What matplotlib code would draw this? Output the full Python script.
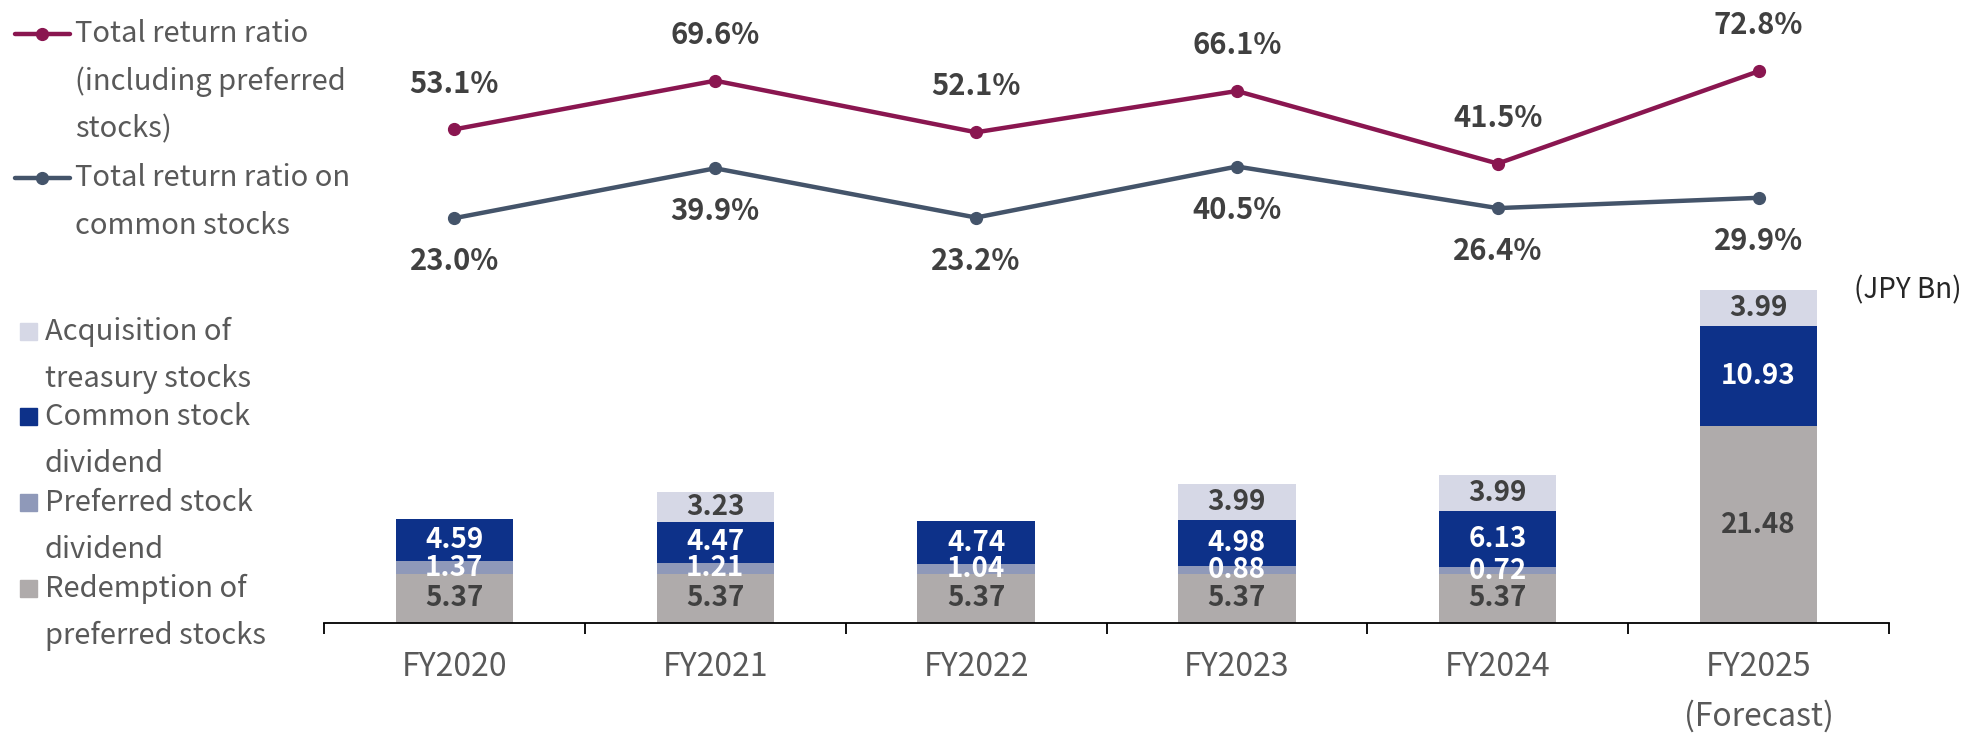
import numpy as np
import matplotlib.pyplot as plt
from matplotlib.lines import Line2D
from matplotlib.patches import Rectangle

plt.rcParams['font.family'] = ['Noto Sans CJK JP', 'DejaVu Sans']

# data
years = ['FY2020', 'FY2021', 'FY2022', 'FY2023', 'FY2024', 'FY2025\n(Forecast)']
redemption = [5.37, 5.37, 5.37, 5.37, 5.37, 21.48]
preferred_div = [1.37, 1.21, 1.04, 0.88, 0.72, 0.0]
common_div = [4.59, 4.47, 4.74, 4.98, 6.13, 10.93]
treasury = [0.0, 3.23, 0.0, 3.99, 3.99, 3.99]
ratio_incl_pref = [53.1, 69.6, 52.1, 66.1, 41.5, 72.8]
ratio_common = [23.0, 39.9, 23.2, 40.5, 26.4, 29.9]

c_red = '#AFABAB'
c_pref = '#8F99B9'
c_common = '#0D3189'
c_treas = '#D6D8E6'
c_line1 = '#8A1650'
c_line2 = '#44546A'
dark = '#404040'
grey_txt = '#595959'

W, H = 1964, 734


def fx(x):
    return x / W


def fy(y):
    return 1 - y / H


fig = plt.figure(figsize=(W / 100, H / 100), dpi=100)

# bar chart
ax = fig.add_axes([fx(324), fy(623), fx(1889) - fx(324), 366 / H])
x = np.arange(len(years))
bw = 0.45
segments = [(redemption, c_red, dark),
            (preferred_div, c_pref, 'white'),
            (common_div, c_common, 'white'),
            (treasury, c_treas, dark)]
bottom = np.zeros(len(years))
for vals, col, tcol in segments:
    vals = np.array(vals)
    ax.bar(x, vals, bw, bottom=bottom, color=col, edgecolor='none')
    for i, v in enumerate(vals):
        if v > 0:
            ax.text(x[i], bottom[i] + v / 2, '%.2f' % v, ha='center', va='center',
                    fontsize=20, fontweight='bold', color=tcol)
    bottom += vals

ax.set_xlim(-0.5, 5.5)
ax.set_ylim(0, 40)
for s in ['top', 'right', 'left']:
    ax.spines[s].set_visible(False)
ax.spines['bottom'].set_linewidth(1.3)
ax.set_yticks([])
ax.set_xticks(x)
ax.set_xticklabels(years, fontsize=23, color=grey_txt, linespacing=1.65)
ax.tick_params(axis='x', which='major', length=0, pad=20)
ax.set_xticks(np.arange(-0.5, 6, 1), minor=True)
ax.tick_params(axis='x', which='minor', length=8, width=1.3, direction='out')
ax.patch.set_alpha(0)

# line chart
ax2 = fig.add_axes([fx(324), fy(286), fx(1889) - fx(324), 236 / H])
ax2.plot(x, ratio_incl_pref, color=c_line1, lw=3.2, marker='o', ms=8.5)
ax2.plot(x, ratio_common, color=c_line2, lw=3.2, marker='o', ms=8.5)
for i in range(len(x)):
    ax2.annotate('%.1f%%' % ratio_incl_pref[i], (x[i], ratio_incl_pref[i]), xytext=(0, 33),
                 textcoords='offset points', ha='center', va='center',
                 fontsize=21, fontweight='bold', color=dark)
    ax2.annotate('%.1f%%' % ratio_common[i], (x[i], ratio_common[i]), xytext=(0, -31),
                 textcoords='offset points', ha='center', va='center',
                 fontsize=21, fontweight='bold', color=dark)
ax2.set_xlim(-0.5, 5.5)
ax2.set_ylim(0, 80)
ax2.axis('off')

# unit label
fig.text(fx(1962), fy(290), '(JPY Bn)', ha='right', va='center', fontsize=20, color='#262626')

# legend for lines
line_leg = [(c_line1, ['Total return ratio', '(including preferred', 'stocks)'], 34),
            (c_line2, ['Total return ratio on', 'common stocks'], 178)]
for col, lines, y0 in line_leg:
    fig.add_artist(Line2D([fx(15), fx(70)], [fy(y0), fy(y0)], color=col, lw=3.2,
                          solid_capstyle='round'))
    fig.add_artist(Line2D([fx(42)], [fy(y0)], color=col, marker='o', ms=8.5))
    for k, t in enumerate(lines):
        fig.text(fx(75), fy(y0 + k * 47.5), t, ha='left', va='center', fontsize=21, color=grey_txt)

# legend for bars
bar_leg = [(c_treas, ['Acquisition of', 'treasury stocks'], 332),
           (c_common, ['Common stock', 'dividend'], 417),
           (c_pref, ['Preferred stock', 'dividend'], 503),
           (c_red, ['Redemption of', 'preferred stocks'], 589)]
for col, lines, y0 in bar_leg:
    fig.add_artist(Rectangle((fx(20), fy(y0 + 8)), fx(17), 17 / H, color=col,
                             transform=fig.transFigure))
    for k, t in enumerate(lines):
        fig.text(fx(45), fy(y0 + k * 47), t, ha='left', va='center', fontsize=21, color=grey_txt)

fig.savefig('out.png', dpi=100)
